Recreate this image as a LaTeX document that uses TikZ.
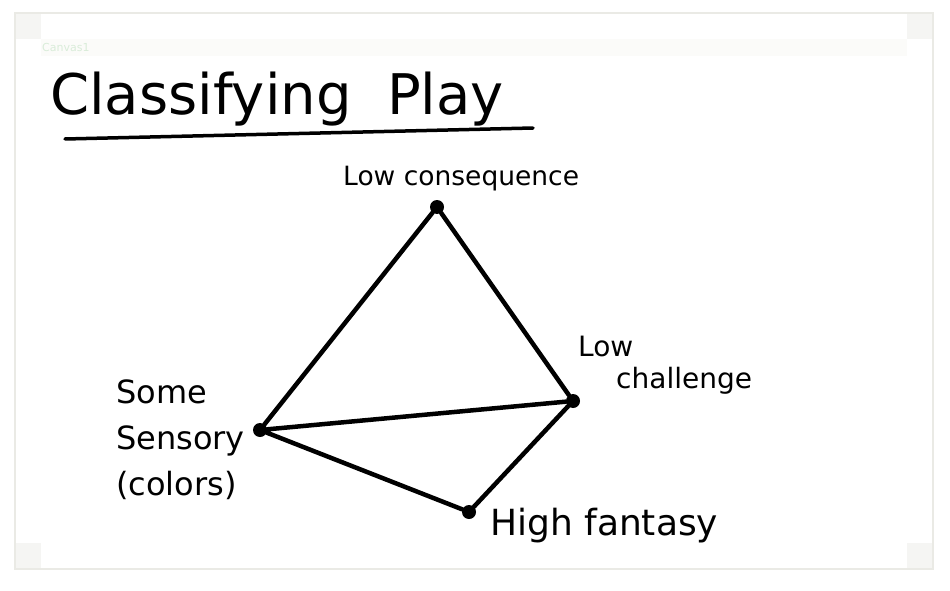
\documentclass[tikz,border=0pt]{standalone}
\usepackage{fontspec}
\setmainfont{DejaVu Sans}
\definecolor{framegray}{HTML}{EAEAE5}
\definecolor{cornergray}{HTML}{F5F5F3}
\definecolor{bandgray}{HTML}{FBFBF9}
\definecolor{canvasgreen}{HTML}{D9ECD9}
\tikzset{
  ink/.style={line width=4.5pt,line cap=round,line join=round},
  vertex/.style={circle,fill=black,inner sep=0pt,minimum size=14pt},
  scrawl/.style={inner sep=0pt,anchor=base west,align=left,
    font=\fontsize{28}{40}\selectfont}
}
\begin{document}
\begin{tikzpicture}[x=1pt,y=-1pt]
\useasboundingbox (0,0) rectangle (950,591);
% canvas frame
\fill[white] (15,13) rectangle (933,569);
\fill[bandgray] (41,39) rectangle (907,56);
\foreach \cx/\cy in {15/13, 907/13, 15/543, 907/543}
  \fill[cornergray] (\cx,\cy) rectangle ++(26,26);
\draw[framegray,line width=2pt] (15,13) rectangle (933,569);
\node[anchor=base west,inner sep=0pt,text=canvasgreen,
  font=\fontsize{11}{13}\selectfont] (canvas) at (42,52) {Canvas1};
% title
\node[scrawl,font=\fontsize{56}{60}\selectfont] (title) at (50,114)
  {Classifying \ Play};
\coordinate (ulA) at (65,139);
\coordinate (ulB) at (533,128);
\draw[ink,line width=3.5pt] (ulA) -- (ulB);
% corners of the diagram
\foreach \n/\x/\y in {top/437/207, right/573/401,
  left/260/430, bottom/469/512}
  \node[vertex] (\n) at (\x,\y) {};
\draw[ink] (top) -- (left) (top) -- (right)
  (left) -- (right) (left) -- (bottom) (bottom) -- (right);
% labels
\node[scrawl,font=\fontsize{26.5}{40}\selectfont] (lowcons) at (343,185) {Low consequence};
\node[scrawl,font=\fontsize{28}{32}\selectfont] (lowchal) at (578,388) {Low\\\hspace*{38pt}challenge};
\node[scrawl,font=\fontsize{32}{46}\selectfont] (sensory) at (116,495) {Some\\Sensory\\(colors)};
\node[scrawl,font=\fontsize{36}{40}\selectfont] (fantasy) at (490,535) {High fantasy};
\end{tikzpicture}
\end{document}
